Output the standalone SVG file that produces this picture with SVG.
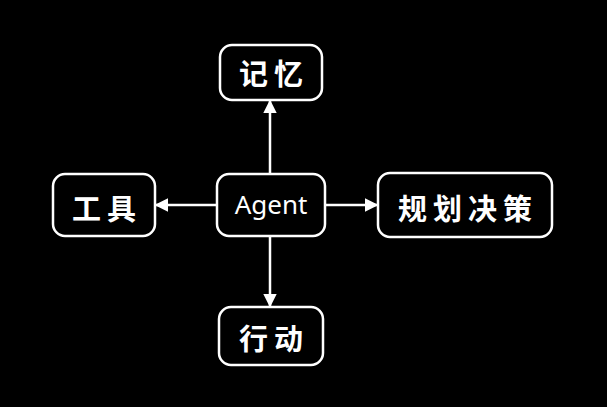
<svg xmlns="http://www.w3.org/2000/svg" width="607" height="407" viewBox="0 0 607 407">
<style>
.box{fill:#000;stroke:#fff;stroke-width:2.5}
.t{fill:#fff;font-family:"Noto Sans CJK SC","Noto Sans",sans-serif;font-size:29px;font-weight:bold;text-anchor:middle;dominant-baseline:central;letter-spacing:6px}
.a{fill:#fff;font-family:"Noto Sans","DejaVu Sans",sans-serif;font-size:26px;text-anchor:middle;dominant-baseline:central}
.c{stroke:#fff;stroke-width:2.5;fill:none;marker-end:url(#ah)}
</style>
<defs>
<marker id="ah" viewBox="0 0 10 10" refX="9" refY="5" markerWidth="5.5" markerHeight="5.5" orient="auto" markerUnits="strokeWidth">
<path d="M0,0 L10,5 L0,10 z" fill="#fff"/>
</marker>
</defs>
<rect width="607" height="407" fill="#000"/>
<g id="connectors">
<line class="c" x1="270" y1="174" x2="270" y2="101"/>
<line class="c" x1="270" y1="236" x2="270" y2="306"/>
<line class="c" x1="217" y1="205" x2="156" y2="205"/>
<line class="c" x1="325" y1="205" x2="377" y2="205"/>
</g>
<g id="memory"><rect class="box" x="220" y="45" width="102" height="55" rx="12"/><text class="t" x="274" y="72">记忆</text></g>
<g id="agent"><rect class="box" x="217" y="174" width="108" height="62" rx="12"/><text class="a" x="271" y="204">Agent</text></g>
<g id="tools"><rect class="box" x="53" y="174" width="102" height="62" rx="12"/><text class="t" x="107" y="207">工具</text></g>
<g id="planning"><rect class="box" x="378" y="173" width="174" height="64" rx="12"/><text class="t" x="468" y="207">规划决策</text></g>
<g id="action"><rect class="box" x="219" y="307" width="104" height="58" rx="12"/><text class="t" x="274" y="337">行动</text></g>
</svg>
